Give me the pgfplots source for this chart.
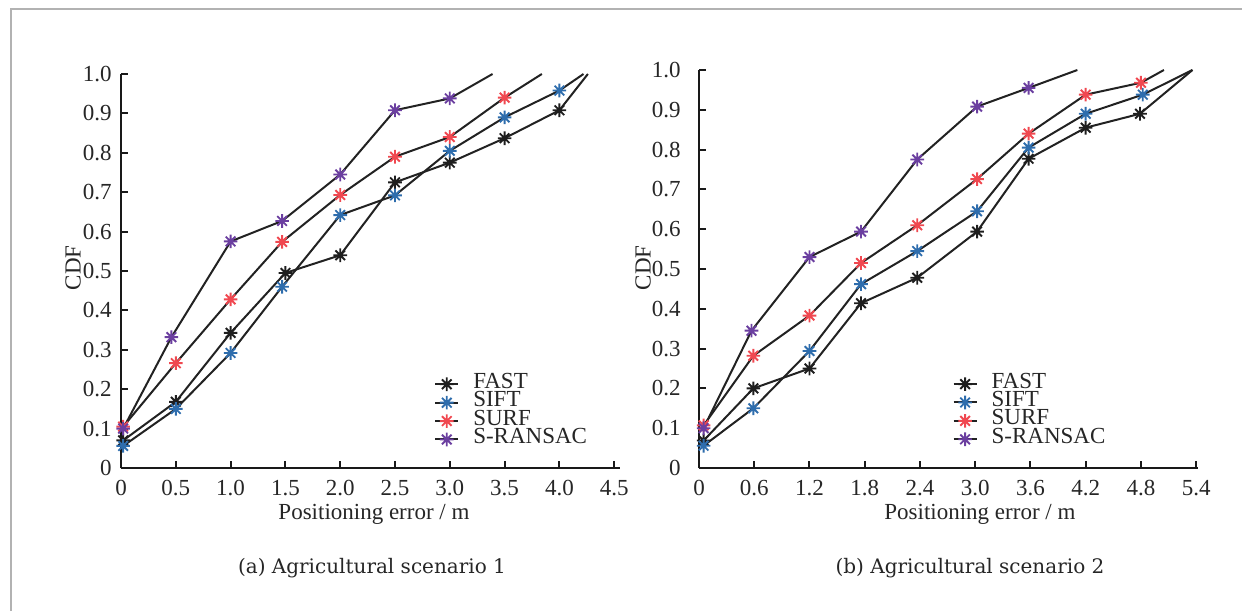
\documentclass[border=0pt]{standalone}
\usepackage{fontspec}
\setmainfont{Liberation Serif}
\newfontfamily\capfont{DejaVu Serif}
\usepackage{pgfplots}
\pgfplotsset{compat=1.18}

\definecolor{lncol}{HTML}{222222}
\definecolor{cfast}{HTML}{1E1E1E}
\definecolor{csift}{HTML}{2E6DAD}
\definecolor{csurf}{HTML}{F04850}
\definecolor{cran}{HTML}{6B3FA0}

% 8-spoke asterisk like the original markers
\pgfdeclareplotmark{ast8}{%
  \pgfpathmoveto{\pgfqpoint{0pt}{\pgfplotmarksize}}%
  \pgfpathlineto{\pgfqpoint{0pt}{-\pgfplotmarksize}}%
  \pgfpathmoveto{\pgfqpoint{\pgfplotmarksize}{0pt}}%
  \pgfpathlineto{\pgfqpoint{-\pgfplotmarksize}{0pt}}%
  \pgfpathmoveto{\pgfqpoint{0.7071\pgfplotmarksize}{0.7071\pgfplotmarksize}}%
  \pgfpathlineto{\pgfqpoint{-0.7071\pgfplotmarksize}{-0.7071\pgfplotmarksize}}%
  \pgfpathmoveto{\pgfqpoint{-0.7071\pgfplotmarksize}{0.7071\pgfplotmarksize}}%
  \pgfpathlineto{\pgfqpoint{0.7071\pgfplotmarksize}{-0.7071\pgfplotmarksize}}%
  \pgfusepathqstroke}

\newcommand{\fs}{\fontsize{11.5}{12}\selectfont}

\pgfplotsset{
  cdfstyle/.style={
    scale only axis, axis lines=left,
    axis line style={-, line width=1pt, black!90},
    major tick style={line width=1pt, black!90}, major tick length=3.5pt,
    tick align=inside,
    ymin=0, ymax=1,
    ytick={0,0.1,0.2,0.3,0.4,0.5,0.6,0.7,0.8,0.9,1},
    yticklabels={0,0.1,0.2,0.3,0.4,0.5,0.6,0.7,0.8,0.9,1.0},
    tick label style={font=\fs, inner sep=0pt, text=black!85},
    xticklabel style={yshift=-6pt},
    label style={font=\fs, text=black!85},
    ylabel={CDF}, xlabel={Positioning error / m},
    clip=false,
    legend cell align=left,
    legend style={draw=none, fill=none, font=\fs, text=black!85,
      nodes={inner sep=0pt, text height=6.6pt, text depth=2.6pt},
      column sep=7pt, row sep=0pt, anchor=north west},
    legend image code/.code={%
      \draw[##1, mark indices={2}] plot coordinates {(0pt,0pt) (5.75pt,0pt) (11.5pt,0pt)};},
  },
  ser/.style={lncol, line width=1pt, mark=ast8, mark size=3.4pt,
    mark options={#1, line width=0.95pt}},
}

\begin{document}
\begin{tikzpicture}
\useasboundingbox (0pt,0pt) rectangle (621pt,305.5pt);
\draw[black!30, line width=0.8pt] (5.5pt,0pt) -- (5.5pt,301pt) -- (621pt,301pt);

% (a) Agricultural scenario 1
\begin{axis}[cdfstyle, at={(60.5pt,71.5pt)}, anchor=south west,
  width=249.5pt, height=197pt,
  xmin=0, xmax=4.553,
  xtick={0,0.5,1,1.5,2,2.5,3,3.5,4,4.5},
  xticklabels={0,0.5,1.0,1.5,2.0,2.5,3.0,3.5,4.0,4.5},
  yticklabel style={xshift=-4.5pt},
  xlabel style={at={(rel axis cs:0.507,0)}, anchor=center, yshift=-23pt},
  ylabel style={at={(rel axis cs:0,0.508)}, anchor=center, yshift=24pt},
  legend style={at={(axis cs:2.80,0.247)}},
]
\addplot[ser=cfast, mark indices={1,2,3,4,5,6,7,8,9}] coordinates {
  (0.02,0.07) (0.5,0.168) (1,0.343) (1.5,0.495) (2,0.54) (2.5,0.725)
  (3,0.775) (3.5,0.837) (4,0.908) (4.26,1.0)};
\addplot[ser=csift, mark indices={1,2,3,4,5,6,7,8,9}] coordinates {
  (0.02,0.056) (0.5,0.15) (1,0.292) (1.47,0.46) (2,0.642) (2.5,0.692)
  (3,0.805) (3.5,0.89) (4,0.958) (4.22,1.0)};
\addplot[ser=csurf, mark indices={1,2,3,4,5,6,7,8}] coordinates {
  (0.02,0.105) (0.5,0.266) (1,0.428) (1.47,0.574) (2,0.693) (2.5,0.79)
  (3,0.84) (3.5,0.94) (3.84,1.0)};
\addplot[ser=cran, mark indices={1,2,3,4,5,6,7}] coordinates {
  (0.02,0.1) (0.46,0.332) (1,0.575) (1.47,0.627) (2,0.745) (2.5,0.908)
  (3,0.938) (3.39,1.0)};
\legend{FAST,SIFT,SURF,S-RANSAC}
\end{axis}

% (b) Agricultural scenario 2
\begin{axis}[cdfstyle, at={(349.5pt,71.5pt)}, anchor=south west,
  width=249.5pt, height=199pt,
  xmin=0, xmax=5.42,
  xtick={0,0.6,1.2,1.8,2.4,3.0,3.6,4.2,4.8,5.4},
  xticklabels={0,0.6,1.2,1.8,2.4,3.0,3.6,4.2,4.8,5.4},
  yticklabel style={xshift=-9pt},
  xlabel style={at={(rel axis cs:0.563,0)}, anchor=center, yshift=-23pt},
  ylabel style={at={(rel axis cs:0,0.503)}, anchor=center, yshift=28pt},
  legend style={at={(axis cs:2.685,0.245)}},
]
\addplot[ser=cfast, mark indices={1,2,3,4,5,6,7,8,9}] coordinates {
  (0.05,0.069) (0.59,0.2) (1.2,0.25) (1.76,0.414) (2.37,0.478) (3.02,0.594)
  (3.58,0.777) (4.2,0.855) (4.79,0.89) (5.36,1.0)};
\addplot[ser=csift, mark indices={1,2,3,4,5,6,7,8,9}] coordinates {
  (0.05,0.056) (0.59,0.15) (1.2,0.294) (1.76,0.462) (2.37,0.545) (3.02,0.645)
  (3.58,0.805) (4.2,0.89) (4.82,0.938) (5.36,1.0)};
\addplot[ser=csurf, mark indices={1,2,3,4,5,6,7,8,9}] coordinates {
  (0.05,0.107) (0.59,0.282) (1.2,0.383) (1.76,0.515) (2.37,0.61) (3.02,0.726)
  (3.58,0.84) (4.2,0.938) (4.8,0.968) (5.05,1.0)};
\addplot[ser=cran, mark indices={1,2,3,4,5,6,7}] coordinates {
  (0.05,0.1) (0.57,0.345) (1.2,0.53) (1.76,0.594) (2.37,0.775) (3.02,0.908)
  (3.58,0.955) (4.11,1.0)};
\legend{FAST,SIFT,SURF,S-RANSAC}
\end{axis}

\node[font={\capfont\fontsize{10}{12}\selectfont}, text=black!85] at (186pt,21.5pt) {(a) Agricultural scenario 1};
\node[font={\capfont\fontsize{10}{12}\selectfont}, text=black!85] at (485pt,21.5pt) {(b) Agricultural scenario 2};
\end{tikzpicture}
\end{document}
